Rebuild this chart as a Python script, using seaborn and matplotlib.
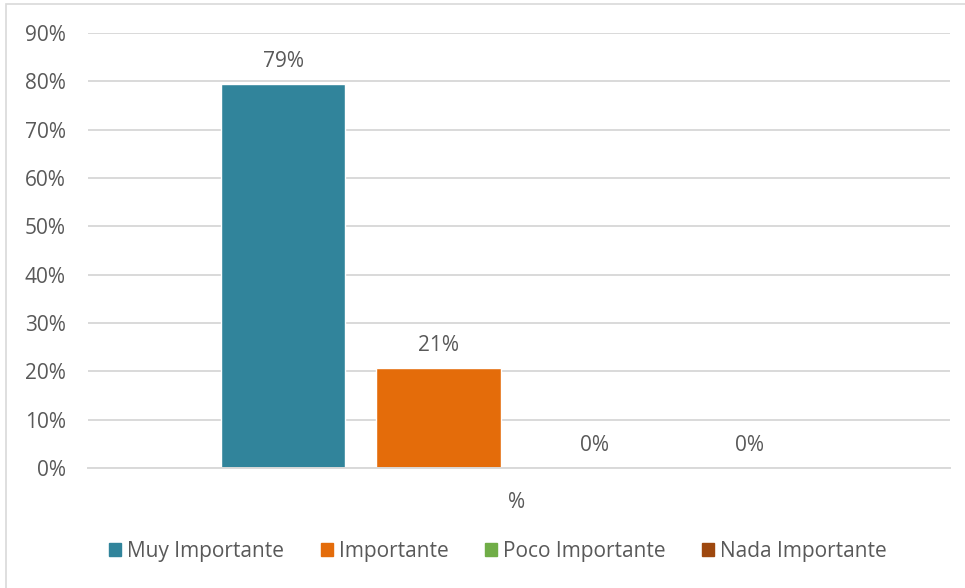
import matplotlib
matplotlib.use("Agg")
import matplotlib.pyplot as plt
import matplotlib.patches as mpatches
import seaborn as sns
import pandas as pd

# Survey answers, share of respondents
categorias = ["Muy Importante", "Importante", "Poco Importante", "Nada Importante"]
valores = [0.794, 0.206, 0.0, 0.0]
grupo = ["%"] * len(categorias)
colores = ["#31849B", "#E46C0A", "#70AD47", "#9E480E"]
ticks_y = [0.0, 0.1, 0.2, 0.3, 0.4, 0.5, 0.6, 0.7, 0.8, 0.9]

df = pd.DataFrame({"grupo": grupo, "categoria": categorias, "valor": valores})

sns.set_theme(style="white")
plt.rcParams["font.family"] = ["Open Sans", "DejaVu Sans"]
texto = "#595959"
rejilla = "#D9D9D9"
fs = 15

fig = plt.figure(figsize=(9.65, 5.88), dpi=100)
ax = fig.add_axes([0.0912, 0.204, 0.8933, 0.7399])

sns.barplot(data=df, x="grupo", y="valor", hue="categoria", hue_order=categorias,
            palette=colores, width=0.722, gap=0.2, saturation=1, ax=ax,
            legend=False, errorbar=None)

ax.set_xlim(-0.497, 0.503)
ax.set_ylim(0, 0.9)
ax.set_yticks(ticks_y)
ax.set_yticklabels([f"{t:.0%}" for t in ticks_y])
ax.yaxis.grid(True, color=rejilla, linewidth=1.4)
ax.set_axisbelow(True)
for lado in ["top", "right", "left"]:
    ax.spines[lado].set_visible(False)
ax.spines["bottom"].set_color(rejilla)
ax.spines["bottom"].set_linewidth(1.4)
ax.tick_params(axis="y", length=0, labelsize=fs, labelcolor=texto, pad=16)
ax.tick_params(axis="x", length=0, labelsize=fs, labelcolor=texto, pad=17)
ax.set_xlabel("")
ax.set_ylabel("")

for cont in ax.containers:
    ax.bar_label(cont, labels=[f"{v:.0%}" for v in cont.datavalues],
                 padding=9, fontsize=fs, color=texto)

handles = [mpatches.Patch(color=c, label=l) for c, l in zip(colores, categorias)]
fig.legend(handles=handles, loc="center", bbox_to_anchor=(0.516, 1 - 551 / 588),
           ncol=4, frameon=False, fontsize=fs, labelcolor=texto,
           handlelength=0.58, handleheight=0.58, handletextpad=0.29,
           columnspacing=1.75)

# chart frame
marco = mpatches.Rectangle((6 / 965, -0.05), 1.1, 1 - 4 / 588 + 0.05,
                           transform=fig.transFigure, fill=False,
                           edgecolor=rejilla, linewidth=1.2)
fig.patches.append(marco)

fig.savefig("out.png", dpi=100, facecolor="white")
